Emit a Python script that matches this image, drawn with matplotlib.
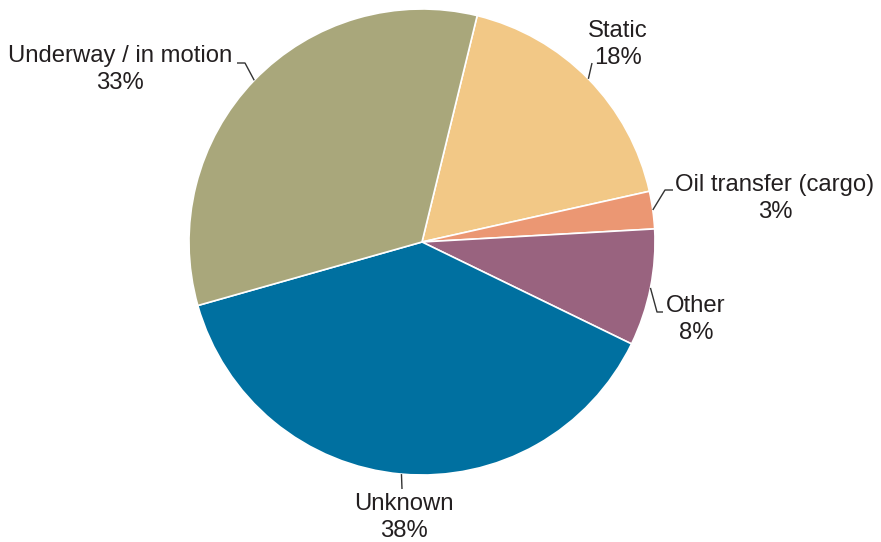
import numpy as np
import matplotlib
matplotlib.use("Agg")
import matplotlib.pyplot as plt

W, H = 881, 542

labels = ["Static", "Oil transfer (cargo)", "Other", "Unknown", "Underway / in motion"]
values = [17.7, 2.6, 8.1, 38.4, 33.2]
colors = ["#F2C886", "#EB9773", "#99637F", "#0070A0", "#A9A77B"]

# label layout in pixel coords (top-down): text x centre, first baseline
text_pos = [(618, 37), (775, 191), (696, 312), (404, 510), (120, 62)]
# leader line points after the one on the wedge edge
leader_pts = [
    [(592, 63)],
    [(665, 190), (673, 190)],
    [(657, 312), (663, 312)],
    [(402, 489)],
    [(245, 63), (237, 63)],
]

CX, CY, R = 422, 242, 233


def px(x, y):
    return x, H - y


fig = plt.figure(figsize=(W / 100, H / 100), dpi=100)
fig.patch.set_facecolor("white")
ax = fig.add_axes([0, 0, 1, 1])

wedges, _ = ax.pie(
    values,
    colors=colors,
    startangle=90 - 13.7,
    counterclock=False,
    center=px(CX, CY),
    radius=R,
    wedgeprops=dict(edgecolor="white", linewidth=1.2),
)
ax.set_xlim(0, W)
ax.set_ylim(0, H)
ax.set_aspect("equal")
ax.axis("off")

font = dict(family=["Liberation Sans", "DejaVu Sans"], fontsize=17.2, color="#231F20")

for w, lab, val, (tx, ty), pts in zip(wedges, labels, values, text_pos, leader_pts):
    mid = np.deg2rad((w.theta1 + w.theta2) / 2)
    sx = CX + R * np.cos(mid)
    sy = CY - R * np.sin(mid)
    xs = [sx] + [p[0] for p in pts]
    ys = [H - sy] + [H - p[1] for p in pts]
    ax.plot(xs, ys, color="#333333", linewidth=1.0, solid_capstyle="butt")
    ax.text(*px(tx, ty), lab, ha="center", va="baseline", **font)
    ax.text(*px(tx, ty + 27), f"{round(val):.0f}%", ha="center", va="baseline", **font)

fig.savefig("out.png", dpi=100)
